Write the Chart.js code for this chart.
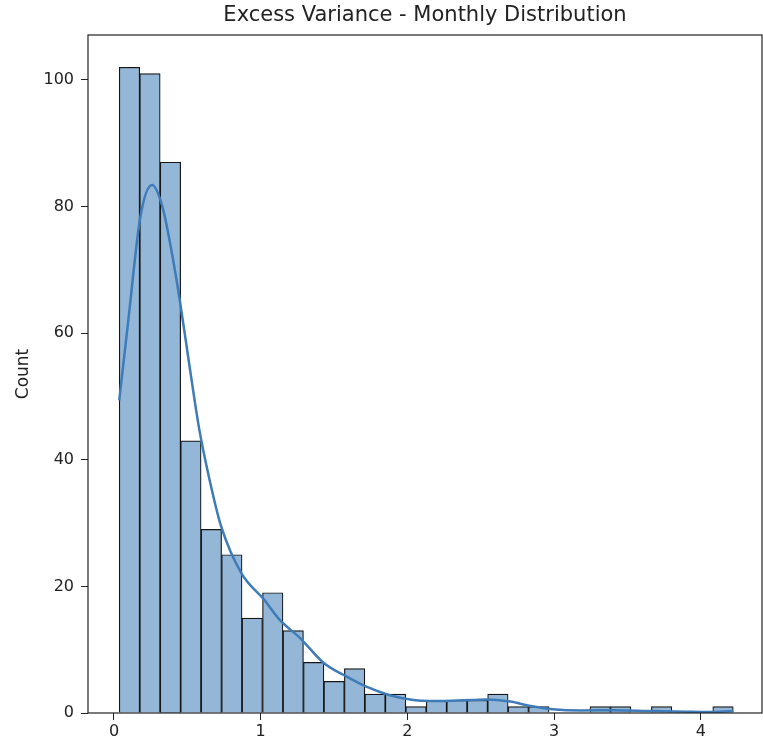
<!DOCTYPE html>
<html>
<head>
<meta charset="utf-8">
<script src="https://cdn.jsdelivr.net/npm/chart.js@4"></script>
<style>
  body { margin: 0; background: #fff; }
  canvas { display: block; }
</style>
</head>
<body>
<canvas id="histChart" width="763" height="745"></canvas>
<script>
// histogram bins: first edge, bin width, counts per bin
var binStart = 0.036;
var binWidth = 0.1395;
var counts = [102, 101, 87, 43, 29, 25, 15, 19, 13, 8,
              5, 7, 3, 3, 1, 2, 2, 2, 3, 1,
              1, 0, 0, 1, 1, 0, 1, 0, 0, 1];

// density curve, scaled to counts
var kdeX = [0.036, 0.10, 0.18, 0.26, 0.33, 0.40, 0.45, 0.52, 0.58, 0.65,
            0.73, 0.87, 1.02, 1.13, 1.27, 1.43, 1.59, 1.72, 1.88, 2.04,
            2.15, 2.30, 2.45, 2.54, 2.70, 2.84, 2.99, 3.18, 3.40, 3.67,
            3.90, 4.05, 4.222];
var kdeY = [49.4, 62.5, 78.4, 83.4, 80, 72, 65, 54, 45, 37,
            29.5, 22, 18, 14.7, 11.8, 7.9, 5.7, 4.15, 2.8, 2.05,
            1.9, 1.95, 2.05, 2.15, 1.8, 1.1, 0.6, 0.4, 0.45, 0.3,
            0.2, 0.15, 0.3];

var xTicks = [0, 1, 2, 3, 4];
var yTicks = [0, 20, 40, 60, 80, 100];

var titleText = "Excess Variance - Monthly Distribution";
var yLabel = "Count";

var barPoints = [];
for (let i = 0; i < counts.length; i++) {
    barPoints.push({ x: binStart + (i + 0.5) * binWidth, y: counts[i] });
}
var kdePoints = [];
for (let i = 0; i < kdeX.length; i++) {
    kdePoints.push({ x: kdeX[i], y: kdeY[i] });
}

var FONT = "'DejaVu Sans', sans-serif";

// matplotlib-style box around the axes plus a title centred over them
const framePlugin = {
    id: "frame",
    afterDraw(chart) {
        const ctx = chart.ctx;
        const a = chart.chartArea;
        ctx.save();
        ctx.strokeStyle = "#222";
        ctx.lineWidth = 1.2;
        ctx.strokeRect(a.left, a.top, a.right - a.left, a.bottom - a.top);
        ctx.fillStyle = "#222";
        ctx.font = "21px " + FONT;
        ctx.textAlign = "center";
        ctx.textBaseline = "middle";
        ctx.fillText(titleText, (a.left + a.right) / 2, 16);
        ctx.restore();
    }
};

const ctx = document.getElementById("histChart").getContext("2d");
const myChart = new Chart(ctx, {
    type: "bar",
    data: {
        datasets: [{
            type: "line",
            data: kdePoints,
            borderColor: "#3d7bb9",
            borderWidth: 2.5,
            pointRadius: 0,
            cubicInterpolationMode: "monotone",
            fill: false,
            order: 1
        }, {
            type: "bar",
            data: barPoints,
            backgroundColor: "#94b7d7",
            borderColor: "#151515",
            borderWidth: 1.2,
            barPercentage: 1,
            categoryPercentage: 1,
            order: 2
        }]
    },
    options: {
        responsive: false,
        animation: false,
        layout: { padding: { top: 35, right: 1, left: 0, bottom: 0 } },
        plugins: {
            legend: { display: false },
            tooltip: { enabled: false }
        },
        scales: {
            x: {
                type: "linear",
                offset: false,
                min: -0.177,
                max: 4.417,
                afterFit: function(s) { s.height = 32; },
                afterBuildTicks: function(s) { s.ticks = xTicks.map(v => ({ value: v })); },
                border: { display: false },
                grid: { display: true, drawOnChartArea: false, tickLength: 7, tickColor: "#222", offset: false },
                ticks: { color: "#222", font: { family: FONT, size: 16 }, padding: 2, maxRotation: 0 }
            },
            y: {
                type: "linear",
                min: 0,
                max: 107.1,
                afterFit: function(s) { s.width = 88; },
                afterBuildTicks: function(s) { s.ticks = yTicks.map(v => ({ value: v })); },
                border: { display: false },
                grid: { display: true, drawOnChartArea: false, tickLength: 7, tickColor: "#222" },
                ticks: { color: "#222", font: { family: FONT, size: 16 }, padding: 7 },
                title: {
                    display: true,
                    text: yLabel,
                    color: "#222",
                    font: { family: FONT, size: 17 },
                    padding: { top: 13, bottom: 0 }
                }
            }
        }
    },
    plugins: [framePlugin]
});
</script>
</body>
</html>
